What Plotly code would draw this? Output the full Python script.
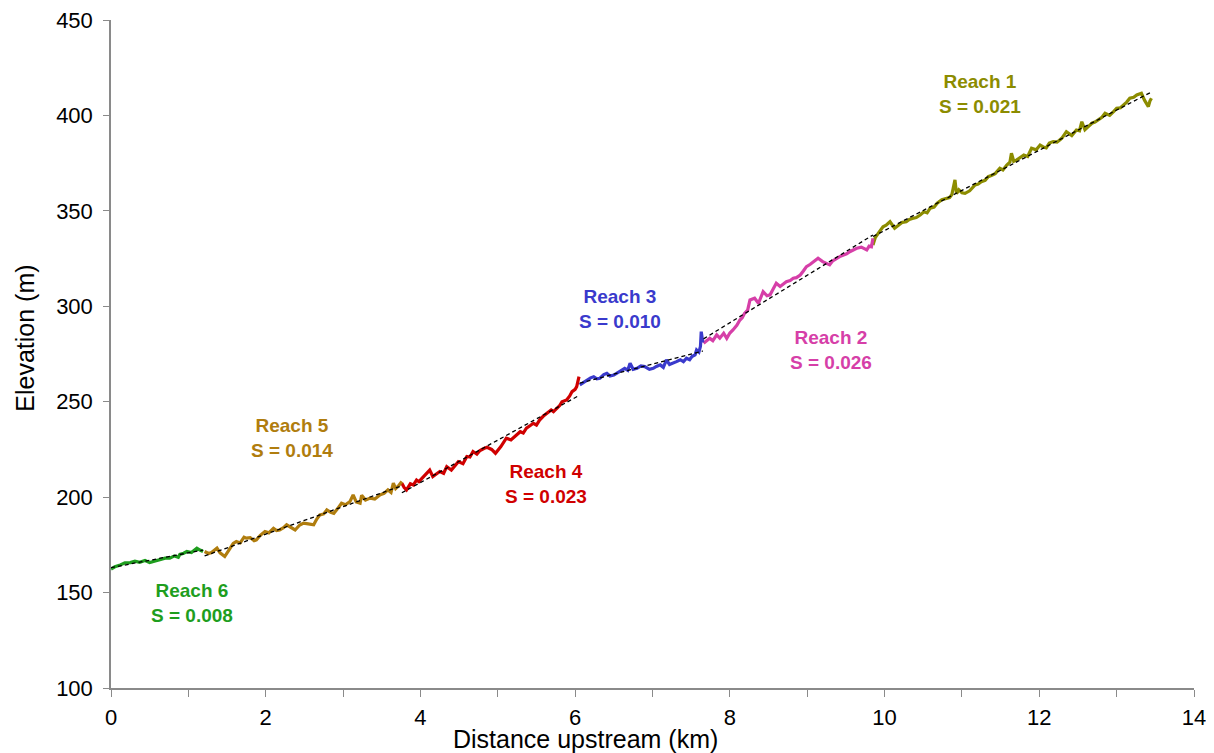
import numpy as np
import plotly.graph_objects as go

# ---- Data (distance upstream in km, elevation in m) ----
x6 = [0.00, 0.05, 0.12, 0.18, 0.25, 0.31, 0.37, 0.44, 0.50, 0.56, 0.63, 0.70, 0.76, 0.82, 0.87, 0.89, 0.94, 0.98, 1.04, 1.08, 1.11, 1.15, 1.19]
y6 = [162.3, 163.5, 164.5, 165.6, 165.7, 166.5, 165.9, 166.8, 165.7, 166.4, 166.8, 168.0, 168.0, 169.2, 168.5, 170.0, 170.6, 171.5, 171.0, 172.5, 173.3, 172.3, 171.5]

x5 = [1.21, 1.26, 1.30, 1.37, 1.41, 1.47, 1.52, 1.58, 1.62, 1.67, 1.72, 1.75, 1.80, 1.85, 1.88, 1.93, 1.99, 2.04, 2.10, 2.14, 2.18, 2.23, 2.27, 2.32, 2.38, 2.44, 2.49, 2.55, 2.62, 2.66, 2.70, 2.75, 2.79, 2.84, 2.88, 2.93, 2.98, 3.03, 3.09, 3.13, 3.17, 3.22, 3.24, 3.29, 3.35, 3.41, 3.48, 3.53, 3.58, 3.62, 3.65, 3.68, 3.71, 3.76]
y5 = [171.5, 170.5, 171.0, 173.3, 170.8, 168.9, 172.0, 175.8, 176.7, 176.0, 179.0, 178.5, 178.8, 177.2, 177.6, 180.0, 182.0, 181.3, 183.7, 182.5, 182.8, 184.0, 185.5, 184.2, 182.8, 185.4, 186.4, 186.0, 185.5, 188.5, 190.7, 191.2, 193.3, 192.0, 191.5, 194.0, 196.8, 196.0, 197.7, 201.2, 197.5, 196.8, 201.0, 198.5, 199.5, 199.0, 201.2, 202.0, 203.8, 202.5, 207.3, 204.5, 205.6, 208.2]

x4 = [3.76, 3.79, 3.82, 3.87, 3.91, 3.95, 3.98, 4.03, 4.08, 4.12, 4.16, 4.20, 4.25, 4.30, 4.34, 4.40, 4.45, 4.49, 4.55, 4.60, 4.64, 4.68, 4.73, 4.77, 4.82, 4.86, 4.92, 4.97, 5.04, 5.08, 5.11, 5.17, 5.22, 5.26, 5.29, 5.33, 5.37, 5.42, 5.46, 5.50, 5.54, 5.59, 5.63, 5.69, 5.72, 5.76, 5.80, 5.83, 5.89, 5.93, 5.96, 6.00, 6.02, 6.05]
y4 = [207.3, 205.0, 203.8, 207.0, 206.4, 209.0, 208.1, 210.5, 212.5, 214.2, 210.8, 212.0, 213.4, 212.5, 216.0, 214.2, 216.5, 218.6, 217.5, 221.3, 221.0, 223.9, 222.5, 224.4, 225.5, 226.1, 225.0, 223.0, 226.5, 229.5, 230.9, 230.0, 231.8, 233.5, 234.3, 233.6, 236.1, 237.5, 238.7, 237.8, 240.4, 242.5, 244.0, 245.7, 244.8, 246.5, 248.0, 250.0, 250.9, 253.0, 255.3, 256.5, 257.9, 263.1]

x3 = [6.06, 6.10, 6.15, 6.20, 6.24, 6.28, 6.32, 6.37, 6.41, 6.45, 6.50, 6.54, 6.58, 6.64, 6.68, 6.71, 6.75, 6.80, 6.85, 6.90, 6.96, 7.01, 7.05, 7.10, 7.14, 7.18, 7.22, 7.27, 7.31, 7.36, 7.40, 7.44, 7.48, 7.51, 7.55, 7.57, 7.60, 7.62, 7.63, 7.65]
y3 = [258.8, 260.0, 261.4, 262.5, 263.1, 262.0, 262.3, 264.2, 264.9, 263.5, 264.0, 265.0, 265.8, 267.5, 266.5, 270.2, 267.0, 267.5, 268.8, 268.4, 267.0, 267.5, 268.5, 269.3, 268.0, 271.9, 269.5, 270.2, 271.0, 272.0, 271.0, 272.8, 272.0, 273.7, 274.5, 277.1, 276.0, 279.0, 286.7, 281.0]

x2 = [7.66, 7.70, 7.74, 7.78, 7.83, 7.87, 7.92, 7.96, 8.00, 8.04, 8.09, 8.13, 8.16, 8.19, 8.23, 8.26, 8.32, 8.37, 8.40, 8.43, 8.48, 8.52, 8.56, 8.60, 8.65, 8.69, 8.73, 8.78, 8.82, 8.86, 8.91, 8.95, 8.99, 9.04, 9.08, 9.14, 9.20, 9.25, 9.29, 9.33, 9.38, 9.42, 9.47, 9.51, 9.55, 9.60, 9.64, 9.70, 9.74, 9.77, 9.80, 9.83, 9.85]
y2 = [280.6, 282.0, 283.2, 282.0, 285.0, 283.3, 285.9, 283.2, 286.0, 287.6, 290.0, 292.8, 294.0, 296.3, 298.0, 303.3, 304.2, 301.6, 305.0, 307.7, 305.5, 306.0, 309.0, 312.1, 310.4, 311.5, 312.9, 313.5, 314.7, 315.0, 316.4, 318.5, 320.8, 322.0, 323.4, 325.2, 323.4, 322.5, 321.7, 323.8, 325.2, 326.0, 326.9, 327.5, 328.6, 329.5, 330.4, 331.0, 330.0, 329.5, 331.5, 331.2, 335.6]

x1 = [9.85, 9.88, 9.92, 9.98, 10.02, 10.07, 10.13, 10.19, 10.23, 10.28, 10.32, 10.36, 10.41, 10.46, 10.51, 10.55, 10.59, 10.64, 10.68, 10.74, 10.80, 10.84, 10.87, 10.91, 10.93, 10.96, 11.00, 11.04, 11.10, 11.13, 11.17, 11.21, 11.25, 11.30, 11.34, 11.38, 11.43, 11.49, 11.53, 11.58, 11.62, 11.64, 11.67, 11.71, 11.76, 11.80, 11.85, 11.90, 11.96, 12.01, 12.05, 12.09, 12.13, 12.18, 12.23, 12.29, 12.35, 12.42, 12.48, 12.52, 12.55, 12.59, 12.63, 12.68, 12.72, 12.76, 12.81, 12.85, 12.91, 12.96, 13.00, 13.05, 13.09, 13.13, 13.17, 13.22, 13.26, 13.32, 13.36, 13.39, 13.41, 13.43, 13.45]
y1 = [332.1, 336.0, 338.3, 341.7, 342.5, 344.3, 340.9, 342.5, 344.0, 344.3, 345.5, 346.0, 346.5, 347.8, 349.5, 349.0, 351.4, 352.0, 354.0, 355.8, 356.6, 357.0, 358.5, 366.2, 359.0, 361.0, 359.5, 359.2, 360.5, 362.0, 363.6, 364.0, 365.3, 366.0, 367.9, 368.5, 369.5, 372.3, 371.4, 374.0, 375.5, 380.2, 376.0, 376.7, 378.0, 379.3, 378.5, 382.8, 382.0, 384.5, 383.5, 383.0, 385.5, 386.3, 386.0, 388.0, 391.5, 389.5, 392.4, 392.0, 396.7, 392.5, 394.0, 395.9, 396.5, 397.6, 399.0, 401.1, 400.0, 402.0, 403.7, 404.0, 405.4, 407.0, 409.0, 409.5, 410.7, 411.6, 408.0, 406.0, 404.6, 407.5, 409.0]

reach_names = ["Reach 1", "Reach 2", "Reach 3", "Reach 4", "Reach 5", "Reach 6"]
slopes = ["0.021", "0.026", "0.010", "0.023", "0.014", "0.008"]
colors = ["#8C8C00", "#D63FA8", "#3A3ACC", "#D00000", "#B07D0E", "#1E9E1E"]
label_x = [11.23, 9.31, 6.58, 5.62, 2.34, 1.05]
label_y = [411.2, 276.9, 298.6, 206.7, 230.8, 144.6]

x_title = "Distance upstream (km)"
y_title = "Elevation (m)"

xs = [x1, x2, x3, x4, x5, x6]
ys = [y1, y2, y3, y4, y5, y6]

FONT = "Arial, Liberation Sans, sans-serif"
AX = "#8a8a8a"

fig = go.Figure()
for xv, yv, c, n in zip(xs, ys, colors, reach_names):
    fig.add_trace(go.Scatter(x=xv, y=yv, mode="lines", name=n,
                             line=dict(color=c, width=3.2)))

# Regression (best-fit) lines for each reach
for xv, yv in zip(xs, ys):
    a, b = np.polyfit(xv, yv, 1)
    xe = [min(xv), max(xv)]
    fig.add_trace(go.Scatter(x=xe, y=[a * v + b for v in xe], mode="lines",
                             line=dict(color="black", width=1.3, dash="4px,3px"),
                             showlegend=False))

for n, s, c, lx, ly in zip(reach_names, slopes, colors, label_x, label_y):
    fig.add_annotation(x=lx, y=ly, text=f"<b>{n}<br>S = {s}</b>", showarrow=False,
                       font=dict(family=FONT, size=19, color=c),
                       align="center")

# Axis titles (placed as in the reference, slightly off-centre)
fig.add_annotation(x=6.13, xref="x", y=0, yref="paper", yanchor="middle",
                   yshift=-51, text=x_title, showarrow=False,
                   font=dict(family=FONT, size=25, color="black"))
fig.add_annotation(x=0, xref="paper", xanchor="center", xshift=-86,
                   y=283, yref="y", text=y_title, textangle=-90, showarrow=False,
                   font=dict(family=FONT, size=25, color="black"))

fig.update_layout(
    width=1198, height=745,
    margin=dict(l=103, r=12, t=12, b=65),
    paper_bgcolor="white", plot_bgcolor="white",
    showlegend=False,
    font=dict(family=FONT, size=22, color="black"),
)
fig.update_xaxes(range=[0, 14], dtick=2, tick0=0, showgrid=False, zeroline=False,
                 showline=True, linecolor=AX, linewidth=1.5,
                 ticks="outside", ticklen=7, tickcolor=AX, tickwidth=1.2,
                 minor=dict(dtick=1, ticks="outside", ticklen=7, tickcolor=AX, tickwidth=1.2),
                 tickfont=dict(size=22), ticklabelstandoff=2, automargin=False,
                 ticklabeloverflow="allow")
fig.update_yaxes(range=[100, 450], dtick=50, showgrid=False, zeroline=False,
                 showline=True, linecolor=AX, linewidth=1.5,
                 ticks="outside", ticklen=6, tickcolor=AX, tickwidth=1.2,
                 tickfont=dict(size=22), ticklabelstandoff=6, automargin=False,
                 ticklabeloverflow="allow")

fig.write_html("out.html")
